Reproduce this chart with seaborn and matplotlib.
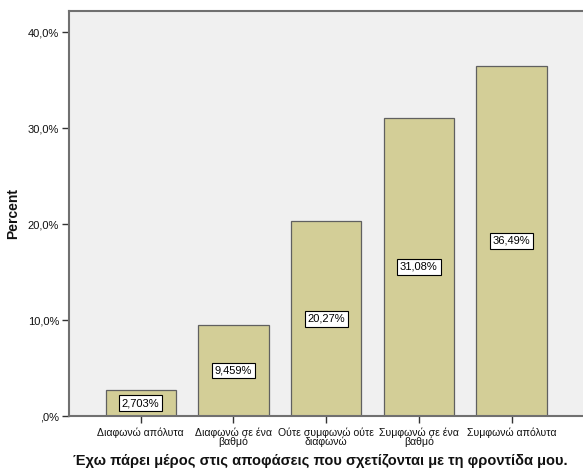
import matplotlib.pyplot as plt
import pandas as pd
import seaborn as sns
from matplotlib import font_manager
from matplotlib.ticker import FuncFormatter

categories = ['Διαφωνώ απόλυτα', 'Διαφωνώ σε ένα\nβαθμό', 'Ούτε συμφωνώ ούτε\nδιαφωνώ',
              'Συμφωνώ σε ένα\nβαθμό', 'Συμφωνώ απόλυτα']
percent = [2.703, 9.459, 20.27, 31.08, 36.49]
bar_labels = ['2,703%', '9,459%', '20,27%', '31,08%', '36,49%']
y_ticks = [0, 10, 20, 30, 40]

df = pd.DataFrame({'answer': categories, 'percent': percent})

sns.set_theme(style="white")

# use the regular (not narrow) Liberation Sans files
for f in font_manager.findSystemFonts():
    name = f.split('/')[-1]
    if name.startswith('LiberationSans-') and 'Narrow' not in name:
        font_manager.fontManager.addfont(f)
plt.rcParams['font.family'] = ['Liberation Sans', 'DejaVu Sans']

fig = plt.figure(figsize=(5.83, 4.72), dpi=100)
ax = fig.add_axes([0.118, 0.1186, 0.882, 0.858])
ax.set_facecolor('#f0f0f0')

sns.barplot(data=df, x='answer', y='percent', color='#d3ce97', saturation=1,
            width=0.76, edgecolor='#606060', linewidth=0.9, ax=ax)

# value boxes in the middle of each bar
for i, (v, lab) in enumerate(zip(percent, bar_labels)):
    ax.text(i, v / 2, lab, ha='center', va='center', fontsize=8, color='black',
            bbox=dict(boxstyle='square,pad=0.25', facecolor='white', edgecolor='black', linewidth=0.8))

ax.set_xlim(-0.776, 4.77)
ax.set_ylim(0, 42.2)
ax.set_yticks(y_ticks)
ax.yaxis.set_major_formatter(FuncFormatter(lambda v, p: ',0%' if v == 0 else f'{v:.1f}%'.replace('.', ',')))

ax.tick_params(axis='both', which='major', direction='out', length=5, width=1,
               color='#333333', labelsize=8, labelcolor='#111111', pad=2,
               left=True, bottom=True)
ax.tick_params(axis='x', labelsize=7.6, pad=3)
for lbl in ax.get_xticklabels():
    lbl.set_linespacing(0.85)

for side in ['left', 'bottom', 'top']:
    ax.spines[side].set_color('#707070')
    ax.spines[side].set_linewidth(1.5)
ax.spines['right'].set_visible(False)

ax.set_ylabel('Percent', fontsize=10, fontweight='bold', color='#111111')
ax.yaxis.set_label_coords(-0.095, 0.5)
ax.set_xlabel('Έχω πάρει μέρος στις αποφάσεις που σχετίζονται με τη φροντίδα μου.',
              fontsize=10.5, fontweight='bold', color='#111111')
ax.xaxis.set_label_coords(0.489, -0.093)

fig.savefig('out.png', dpi=100)
